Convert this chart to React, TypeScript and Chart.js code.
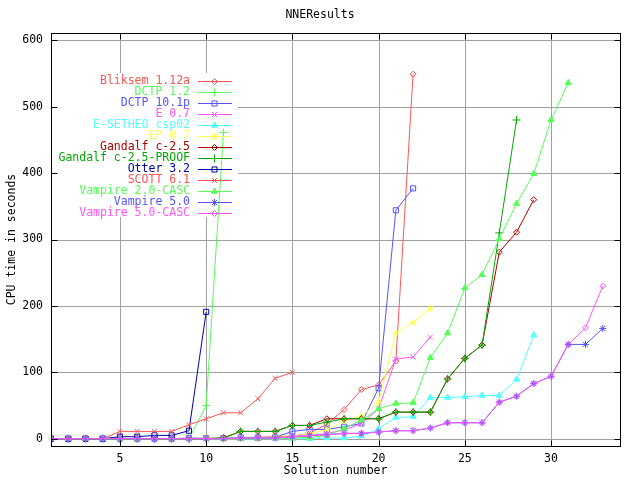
import React, { useEffect, useRef } from 'react';
import { Chart, registerables } from 'chart.js';
import * as helpers from 'chart.js/helpers';

Chart.register(...registerables);

const chartTitle = 'NNEResults';
const xTitle = 'Solution number';
const yTitle = 'CPU time in seconds';

const seriesNames = [
  'Bliksem 1.12a',
  'DCTP 1.2',
  'DCTP 10.1p',
  'E 0.7',
  'E-SETHEO csp02',
  'EP 0.7',
  'Gandalf c-2.5',
  'Gandalf c-2.5-PROOF',
  'Otter 3.2',
  'SCOTT 6.1',
  'Vampire 2.0-CASC',
  'Vampire 5.0',
  'Vampire 5.0-CASC',
];

const bliksem = [0, 0, 0, 0, 0, 0, 0, 0, 0, 0, 1, 1, 2, 3, 4, 8, 22, 44, 74, 81, 117, 549];
const dctp12 = [0, 0, 0, 0, 0, 0, 0, 0, 0, 50, 461];
const dctp101p = [0, 0, 0, 0, 0, 0, 0, 0, 1, 1, 1, 2, 2, 2, 11, 14, 14, 18, 23, 76, 344, 377];
const e07 = [0, 0, 0, 0, 0, 0, 0, 0, 0, 0, 0, 0, 1, 1, 2, 4, 8, 13, 23, 45, 120, 123, 153];
const esetheo = [0, 0, 0, 0, 0, 0, 0, 0, 0, 0, 0, 0, 0, 0, 0, 0, 1, 1, 4, 15, 32, 33, 62, 62, 63, 65, 65, 89, 156];
const ep07 = [0, 0, 0, 0, 0, 0, 0, 0, 0, 1, 1, 1, 1, 2, 3, 8, 13, 27, 34, 55, 159, 175, 196];
const gandalf = [0, 0, 0, 0, 0, 0, 0, 0, 0, 0, 1, 11, 11, 11, 20, 20, 30, 30, 30, 30, 40, 40, 40, 90, 121, 141, 281, 311, 360];
const gandalfProof = [0, 0, 0, 0, 0, 0, 0, 0, 0, 0, 1, 11, 11, 11, 20, 20, 25, 30, 30, 30, 40, 40, 40, 90, 121, 141, 310, 480];
const otter = [0, 0, 0, 0, 3, 3, 5, 5, 12, 191];
const scott = [0, 0, 0, 0, 11, 11, 11, 11, 21, 30, 39, 39, 60, 91, 100];
const vampire20 = [0, 0, 0, 0, 0, 0, 0, 0, 0, 0, 0, 0, 0, 1, 1, 2, 5, 15, 28, 45, 53, 54, 122, 159, 227, 247, 301, 354, 399, 480, 536];
const vampire50 = [0, 0, 0, 0, 0, 0, 0, 0, 0, 0, 0, 1, 1, 1, 3, 5, 6, 8, 8, 10, 12, 12, 16, 24, 24, 24, 55, 64, 83, 94, 142, 142, 166];
const vampire50casc = [0, 0, 0, 0, 0, 0, 0, 0, 0, 0, 0, 1, 1, 1, 3, 5, 6, 8, 8, 10, 12, 12, 16, 24, 24, 24, 55, 64, 83, 94, 142, 167, 230];

const seriesValues = [
  bliksem, dctp12, dctp101p, e07, esetheo, ep07, gandalf, gandalfProof,
  otter, scott, vampire20, vampire50, vampire50casc,
];

const xTicks = [5, 10, 15, 20, 25, 30];
const yTicks = [0, 100, 200, 300, 400, 500, 600];

const seriesColors = [
  '#ff5555', '#55ff55', '#5555ff', '#ff55ff', '#55ffff', '#ffff55', '#aa0000',
  '#00aa00', '#0000aa', '#ff5555', '#55ff55', '#5555ff', '#ff55ff',
];
const seriesPointStyles = [
  'rectRot', 'cross', 'rect', 'crossRot', 'triangle', 'star', 'rectRot',
  'cross', 'rect', 'crossRot', 'triangle', 'star', 'rectRot',
];
const radiusFor = (s: string) =>
  s === 'rect' ? 3.6 : s === 'rectRot' ? 3 : s === 'cross' ? 4 : 3.5;

const FONT = "'DejaVu Sans Mono', monospace";
const FSIZE = 11.5;

// legend box (cleared of grid lines)
const KEY_LEFT = 52;
const KEY_RIGHT = 238;
const KEY_TOP = 73;
const KEY_BOTTOM = 217;

const decorPlugin = {
  id: 'decor',
  beforeDatasetsDraw(chart: any) {
    const ctx = chart.ctx;
    const a = chart.chartArea;
    const xs = chart.scales.x;
    const ys = chart.scales.y;
    const L = Math.round(a.left) + 0.5;
    const R = Math.round(a.right) + 0.5;
    const T = Math.round(a.top) + 0.5;
    const B = Math.round(a.bottom) + 0.5;
    ctx.save();
    ctx.strokeStyle = '#a0a0a0';
    ctx.lineWidth = 1;
    ctx.beginPath();
    xTicks.forEach((v) => {
      const px = Math.round(xs.getPixelForValue(v)) + 0.5;
      if (px > KEY_LEFT && px < KEY_RIGHT) {
        ctx.moveTo(px, T); ctx.lineTo(px, KEY_TOP);
        ctx.moveTo(px, KEY_BOTTOM); ctx.lineTo(px, B);
      } else {
        ctx.moveTo(px, T); ctx.lineTo(px, B);
      }
    });
    yTicks.forEach((v) => {
      const py = Math.round(ys.getPixelForValue(v)) + 0.5;
      if (py > KEY_TOP && py < KEY_BOTTOM) {
        ctx.moveTo(KEY_RIGHT, py); ctx.lineTo(R, py);
      } else {
        ctx.moveTo(L, py); ctx.lineTo(R, py);
      }
    });
    ctx.stroke();
    ctx.restore();
  },
  afterDatasetsDraw(chart: any) {
    const ctx = chart.ctx;
    ctx.save();
    ctx.font = `${FSIZE}px ${FONT}`;
    ctx.textAlign = 'right';
    ctx.textBaseline = 'middle';
    seriesNames.forEach((name, i) => {
      const y = 80.5 + i * 11;
      const c = seriesColors[i];
      ctx.fillStyle = c;
      ctx.fillText(name, 190, y + 0.5);
      ctx.strokeStyle = c;
      ctx.lineWidth = 1;
      ctx.beginPath();
      ctx.moveTo(198, Math.round(y) + 0.5);
      ctx.lineTo(232, Math.round(y) + 0.5);
      ctx.stroke();
      const ps = seriesPointStyles[i];
      ctx.fillStyle = ps === 'triangle' ? c : 'rgba(0,0,0,0)';
      helpers.drawPoint(ctx, { pointStyle: ps, radius: radiusFor(ps), borderWidth: 1, rotation: 0 } as any, 214.5, Math.round(y) + 0.5);
    });
    ctx.restore();
  },
  afterDraw(chart: any) {
    const ctx = chart.ctx;
    const a = chart.chartArea;
    const xs = chart.scales.x;
    const ys = chart.scales.y;
    ctx.save();
    ctx.strokeStyle = '#000';
    ctx.lineWidth = 1;
    const L = Math.round(a.left) + 0.5;
    const R = Math.round(a.right) + 0.5;
    const T = Math.round(a.top) + 0.5;
    const B = Math.round(a.bottom) + 0.5;
    ctx.strokeRect(L, T, R - L, B - T);
    ctx.beginPath();
    xTicks.forEach((v) => {
      const px = Math.round(xs.getPixelForValue(v)) + 0.5;
      ctx.moveTo(px, B); ctx.lineTo(px, B - 6);
      ctx.moveTo(px, T); ctx.lineTo(px, T + 6);
    });
    yTicks.forEach((v) => {
      const py = Math.round(ys.getPixelForValue(v)) + 0.5;
      ctx.moveTo(L, py); ctx.lineTo(L + 6, py);
      ctx.moveTo(R, py); ctx.lineTo(R - 6, py);
    });
    ctx.stroke();

    ctx.fillStyle = '#000';
    ctx.font = `${FSIZE}px ${FONT}`;
    ctx.textAlign = 'center';
    ctx.textBaseline = 'middle';
    ctx.fillText(chartTitle, 320, 15.5);
    ctx.fillText(xTitle, (a.left + a.right) / 2, 471);
    ctx.translate(12, (a.top + a.bottom) / 2);
    ctx.rotate(-Math.PI / 2);
    ctx.fillText(yTitle, 0, 0);
    ctx.restore();
  },
};

export default function App() {
  const ref = useRef<HTMLCanvasElement>(null);
  useEffect(() => {
    const datasets = seriesNames.map((name, i) => {
      const c = seriesColors[i];
      const ps = seriesPointStyles[i];
      return {
        label: name,
        data: seriesValues[i].map((y, k) => ({ x: k + 1, y })),
        borderColor: c,
        backgroundColor: c,
        borderWidth: 1,
        pointStyle: ps,
        pointRadius: radiusFor(ps),
        pointBorderWidth: 1,
        pointBorderColor: c,
        pointBackgroundColor: ps === 'triangle' ? c : 'rgba(0,0,0,0)',
        tension: 0,
        fill: false,
        order: seriesNames.length - i,
      };
    });
    const tickFont = { family: FONT, size: FSIZE };
    const chart = new Chart(ref.current as HTMLCanvasElement, {
      type: 'line',
      data: { datasets } as any,
      plugins: [decorPlugin],
      options: {
        responsive: false,
        devicePixelRatio: 1,
        animation: false,
        layout: { padding: { top: 33, right: 20, left: 0, bottom: 0 } },
        plugins: {
          legend: { display: false },
          title: { display: false },
          tooltip: { enabled: false },
        },
        scales: {
          x: {
            type: 'linear',
            min: 1,
            max: 34,
            afterBuildTicks: (s: any) => { s.ticks = xTicks.map((v) => ({ value: v })); },
            afterFit: (s: any) => { s.height = 34; },
            grid: { display: false, drawTicks: false },
            border: { display: false },
            ticks: { padding: 6, color: '#000', font: tickFont, autoSkip: false, maxRotation: 0 },
          },
          y: {
            type: 'linear',
            min: -11,
            max: 611,
            afterBuildTicks: (s: any) => { s.ticks = yTicks.map((v) => ({ value: v })); },
            afterFit: (s: any) => { s.width = 51; },
            grid: { display: false, drawTicks: false },
            border: { display: false },
            ticks: { padding: 8, color: '#000', font: tickFont, autoSkip: false },
          },
        },
      } as any,
    });
    return () => chart.destroy();
  }, []);
  return (
    <div style={{ position: 'absolute', left: 0, top: 0, width: 640, height: 480, background: '#fff' }}>
      <canvas ref={ref} width={640} height={480} style={{ display: 'block', width: 640, height: 480 }} />
    </div>
  );
}
